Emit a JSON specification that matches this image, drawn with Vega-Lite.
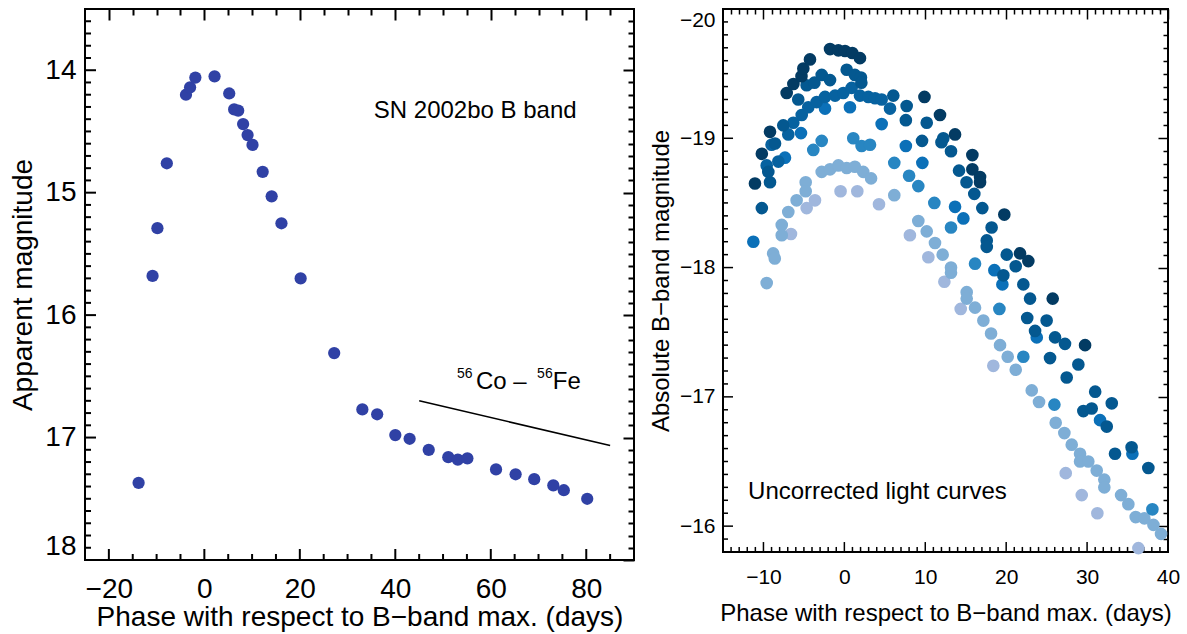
{
"$schema": "https://vega.github.io/schema/vega-lite/v6.json",
"padding": {"left": 8, "top": 7, "right": 0, "bottom": 0},
"config": {
  "font": "Liberation Sans",
  "view": {"stroke": "black", "strokeWidth": 2},
  "axis": {"grid": false, "domain": false, "tickColor": "#000000", "tickOpacity": 1, "labelColor": "black", "titleColor": "black", "labelFont": "Liberation Sans", "titleFont": "Liberation Sans", "titleFontWeight": "normal", "labelOverlap": false}
},
"datasets": {
  "left": [
    {"phase": -13.77, "mag": 17.37}, {"phase": -10.85, "mag": 15.68}, {"phase": -9.83, "mag": 15.29}, {"phase": -7.86, "mag": 14.76},
    {"phase": -3.85, "mag": 14.20}, {"phase": -2.99, "mag": 14.14}, {"phase": -1.88, "mag": 14.06}, {"phase": 2.14, "mag": 14.05},
    {"phase": 5.21, "mag": 14.19}, {"phase": 6.24, "mag": 14.32}, {"phase": 7.09, "mag": 14.33}, {"phase": 8.12, "mag": 14.44},
    {"phase": 9.06, "mag": 14.53}, {"phase": 10.09, "mag": 14.61}, {"phase": 12.22, "mag": 14.83}, {"phase": 14.10, "mag": 15.03},
    {"phase": 16.15, "mag": 15.25}, {"phase": 20.17, "mag": 15.70}, {"phase": 27.2, "mag": 16.31}, {"phase": 33.1, "mag": 16.77},
    {"phase": 36.2, "mag": 16.81}, {"phase": 40.0, "mag": 16.98}, {"phase": 43.0, "mag": 17.01}, {"phase": 47.0, "mag": 17.10},
    {"phase": 51.1, "mag": 17.16}, {"phase": 53.1, "mag": 17.18}, {"phase": 55.1, "mag": 17.17}, {"phase": 61.1, "mag": 17.26},
    {"phase": 65.2, "mag": 17.30}, {"phase": 69.1, "mag": 17.34}, {"phase": 73.1, "mag": 17.39}, {"phase": 75.3, "mag": 17.43},
    {"phase": 80.2, "mag": 17.50}
  ],
  "coline": [{"p1": 45, "m1": 16.70, "p2": 85, "m2": 17.065}],
  "lefttext": [
    {"phase": 35.5, "mag": 14.39, "label": "SN 2002bo B band"},
    {"phase": 56.9, "mag": 16.60, "label": "Co – "},
    {"phase": 73.0, "mag": 16.60, "label": "Fe"}
  ],
  "leftsup": [
    {"phase": 52.9, "mag": 16.51, "label": "56"},
    {"phase": 69.7, "mag": 16.51, "label": "56"}
  ],
  "lxmaj": [{"v": -20}, {"v": 0}, {"v": 20}, {"v": 40}, {"v": 60}, {"v": 80}],
  "lxmin": [{"v": -15}, {"v": -10}, {"v": -5}, {"v": 5}, {"v": 10}, {"v": 15}, {"v": 25}, {"v": 30}, {"v": 35}, {"v": 45}, {"v": 50}, {"v": 55}, {"v": 65}, {"v": 70}, {"v": 75}, {"v": 85}],
  "lymaj": [{"v": 14}, {"v": 15}, {"v": 16}, {"v": 17}],
  "lymin": [{"v": 13.6}, {"v": 13.7}, {"v": 13.8}, {"v": 13.9}, {"v": 14.1}, {"v": 14.2}, {"v": 14.3}, {"v": 14.4}, {"v": 14.5}, {"v": 14.6}, {"v": 14.7}, {"v": 14.8}, {"v": 14.9}, {"v": 15.1}, {"v": 15.2}, {"v": 15.3}, {"v": 15.4}, {"v": 15.5}, {"v": 15.6}, {"v": 15.7}, {"v": 15.8}, {"v": 15.9}, {"v": 16.1}, {"v": 16.2}, {"v": 16.3}, {"v": 16.4}, {"v": 16.5}, {"v": 16.6}, {"v": 16.7}, {"v": 16.8}, {"v": 16.9}, {"v": 17.1}, {"v": 17.2}, {"v": 17.3}, {"v": 17.4}, {"v": 17.5}, {"v": 17.6}, {"v": 17.7}, {"v": 17.8}, {"v": 17.9}],
  "rxmaj": [{"v": -10}, {"v": 0}, {"v": 10}, {"v": 20}, {"v": 30}],
  "rxmin": [{"v": -14}, {"v": -13}, {"v": -12}, {"v": -11}, {"v": -9}, {"v": -8}, {"v": -7}, {"v": -6}, {"v": -5}, {"v": -4}, {"v": -3}, {"v": -2}, {"v": -1}, {"v": 1}, {"v": 2}, {"v": 3}, {"v": 4}, {"v": 5}, {"v": 6}, {"v": 7}, {"v": 8}, {"v": 9}, {"v": 11}, {"v": 12}, {"v": 13}, {"v": 14}, {"v": 15}, {"v": 16}, {"v": 17}, {"v": 18}, {"v": 19}, {"v": 21}, {"v": 22}, {"v": 23}, {"v": 24}, {"v": 25}, {"v": 26}, {"v": 27}, {"v": 28}, {"v": 29}, {"v": 31}, {"v": 32}, {"v": 33}, {"v": 34}, {"v": 35}, {"v": 36}, {"v": 37}, {"v": 38}, {"v": 39}],
  "rymaj": [{"v": -19}, {"v": -18}, {"v": -17}, {"v": -16}],
  "rymin": [{"v": -19.9}, {"v": -19.8}, {"v": -19.7}, {"v": -19.6}, {"v": -19.5}, {"v": -19.4}, {"v": -19.3}, {"v": -19.2}, {"v": -19.1}, {"v": -18.9}, {"v": -18.8}, {"v": -18.7}, {"v": -18.6}, {"v": -18.5}, {"v": -18.4}, {"v": -18.3}, {"v": -18.2}, {"v": -18.1}, {"v": -17.9}, {"v": -17.8}, {"v": -17.7}, {"v": -17.6}, {"v": -17.5}, {"v": -17.4}, {"v": -17.3}, {"v": -17.2}, {"v": -17.1}, {"v": -16.9}, {"v": -16.8}, {"v": -16.7}, {"v": -16.6}, {"v": -16.5}, {"v": -16.4}, {"v": -16.3}, {"v": -16.2}, {"v": -16.1}, {"v": -15.9}],
  "righttext": [{"phase": -11.9, "mag": -16.21, "label": "Uncorrected light curves"}],
  "right": [
    {"curve": "c7", "phase": -6.6, "mag": -18.26}, {"curve": "c7", "phase": -4.66, "mag": -18.46}, {"curve": "c7", "phase": -3.63, "mag": -18.52},
    {"curve": "c7", "phase": -0.47, "mag": -18.59}, {"curve": "c7", "phase": 1.6, "mag": -18.59}, {"curve": "c7", "phase": 4.28, "mag": -18.49},
    {"curve": "c7", "phase": 8.1, "mag": -18.25}, {"curve": "c7", "phase": 10.38, "mag": -18.08}, {"curve": "c7", "phase": 12.36, "mag": -17.89},
    {"curve": "c7", "phase": 14.38, "mag": -17.68}, {"curve": "c7", "phase": 18.41, "mag": -17.24}, {"curve": "c7", "phase": 27.36, "mag": -16.41},
    {"curve": "c7", "phase": 29.34, "mag": -16.24}, {"curve": "c7", "phase": 31.27, "mag": -16.10}, {"curve": "c7", "phase": 36.34, "mag": -15.83},

    {"curve": "c6", "phase": -9.6, "mag": -17.88}, {"curve": "c6", "phase": -8.8, "mag": -18.11}, {"curve": "c6", "phase": -8.6, "mag": -18.07},
    {"curve": "c6", "phase": -7.74, "mag": -18.33}, {"curve": "c6", "phase": -7.74, "mag": -18.25}, {"curve": "c6", "phase": -6.93, "mag": -18.43},
    {"curve": "c6", "phase": -5.9, "mag": -18.52}, {"curve": "c6", "phase": -4.78, "mag": -18.66}, {"curve": "c6", "phase": -4.78, "mag": -18.59},
    {"curve": "c6", "phase": -2.8, "mag": -18.74}, {"curve": "c6", "phase": -1.77, "mag": -18.76}, {"curve": "c6", "phase": -0.74, "mag": -18.79},
    {"curve": "c6", "phase": 0.29, "mag": -18.77}, {"curve": "c6", "phase": 1.3, "mag": -18.78}, {"curve": "c6", "phase": 2.33, "mag": -18.74},
    {"curve": "c6", "phase": 3.3, "mag": -18.69}, {"curve": "c6", "phase": 6.17, "mag": -18.56}, {"curve": "c6", "phase": 9.14, "mag": -18.36},
    {"curve": "c6", "phase": 10.18, "mag": -18.28}, {"curve": "c6", "phase": 11.2, "mag": -18.19}, {"curve": "c6", "phase": 12.15, "mag": -18.10},
    {"curve": "c6", "phase": 13.18, "mag": -18.0}, {"curve": "c6", "phase": 13.18, "mag": -17.96}, {"curve": "c6", "phase": 15.12, "mag": -17.81},
    {"curve": "c6", "phase": 15.12, "mag": -17.76}, {"curve": "c6", "phase": 16.15, "mag": -17.69}, {"curve": "c6", "phase": 17.18, "mag": -17.59},
    {"curve": "c6", "phase": 18.13, "mag": -17.49}, {"curve": "c6", "phase": 19.24, "mag": -17.40}, {"curve": "c6", "phase": 20.19, "mag": -17.31},
    {"curve": "c6", "phase": 21.18, "mag": -17.21}, {"curve": "c6", "phase": 23.16, "mag": -17.05}, {"curve": "c6", "phase": 24.06, "mag": -16.96},
    {"curve": "c6", "phase": 26.12, "mag": -16.80}, {"curve": "c6", "phase": 27.19, "mag": -16.72}, {"curve": "c6", "phase": 28.1, "mag": -16.63},
    {"curve": "c6", "phase": 29.13, "mag": -16.56}, {"curve": "c6", "phase": 29.13, "mag": -16.50}, {"curve": "c6", "phase": 30.15, "mag": -16.50},
    {"curve": "c6", "phase": 31.19, "mag": -16.43}, {"curve": "c6", "phase": 32.13, "mag": -16.36}, {"curve": "c6", "phase": 32.13, "mag": -16.30},
    {"curve": "c6", "phase": 34.2, "mag": -16.24}, {"curve": "c6", "phase": 35.1, "mag": -16.17}, {"curve": "c6", "phase": 36.01, "mag": -16.07},
    {"curve": "c6", "phase": 37.08, "mag": -16.06}, {"curve": "c6", "phase": 38.2, "mag": -16.01}, {"curve": "c6", "phase": 39.14, "mag": -15.94},

    {"curve": "c5", "phase": -3.84, "mag": -18.91}, {"curve": "c5", "phase": -2.8, "mag": -18.98}, {"curve": "c5", "phase": 1.1, "mag": -19.0},
    {"curve": "c5", "phase": 2.13, "mag": -18.94}, {"curve": "c5", "phase": 3.17, "mag": -18.95}, {"curve": "c5", "phase": 6.17, "mag": -18.81},
    {"curve": "c5", "phase": 8.0, "mag": -18.71}, {"curve": "c5", "phase": 9.14, "mag": -18.63}, {"curve": "c5", "phase": 11.12, "mag": -18.5},
    {"curve": "c5", "phase": 13.18, "mag": -18.31}, {"curve": "c5", "phase": 16.15, "mag": -18.03}, {"curve": "c5", "phase": 19.16, "mag": -17.68},
    {"curve": "c5", "phase": 22.12, "mag": -17.31}, {"curve": "c5", "phase": 25.96, "mag": -16.94}, {"curve": "c5", "phase": 38.07, "mag": -16.13},

    {"curve": "c4", "phase": -11.25, "mag": -18.20}, {"curve": "c4", "phase": -7.34, "mag": -18.85}, {"curve": "c4", "phase": -5.36, "mag": -19.04},
    {"curve": "c4", "phase": -2.39, "mag": -19.23}, {"curve": "c4", "phase": 0.69, "mag": -19.24}, {"curve": "c4", "phase": 4.61, "mag": -19.11},
    {"curve": "c4", "phase": 7.6, "mag": -18.94}, {"curve": "c4", "phase": 9.64, "mag": -18.81}, {"curve": "c4", "phase": 13.68, "mag": -18.47},
    {"curve": "c4", "phase": 14.71, "mag": -18.38}, {"curve": "c4", "phase": 18.54, "mag": -17.98}, {"curve": "c4", "phase": 19.53, "mag": -17.87},
    {"curve": "c4", "phase": 23.78, "mag": -17.46}, {"curve": "c4", "phase": 31.6, "mag": -16.82}, {"curve": "c4", "phase": 35.6, "mag": -16.56},

    {"curve": "c3", "phase": -9.6, "mag": -18.79}, {"curve": "c3", "phase": -9.0, "mag": -18.95}, {"curve": "c3", "phase": -8.16, "mag": -18.82},
    {"curve": "c3", "phase": -6.93, "mag": -19.03}, {"curve": "c3", "phase": -6.31, "mag": -19.12}, {"curve": "c3", "phase": -5.27, "mag": -19.18},
    {"curve": "c3", "phase": -4.46, "mag": -19.24}, {"curve": "c3", "phase": -3.42, "mag": -19.28}, {"curve": "c3", "phase": -2.39, "mag": -19.32},
    {"curve": "c3", "phase": -1.15, "mag": -19.33}, {"curve": "c3", "phase": -0.13, "mag": -19.35}, {"curve": "c3", "phase": 0.9, "mag": -19.39},
    {"curve": "c3", "phase": 1.93, "mag": -19.33}, {"curve": "c3", "phase": 2.96, "mag": -19.32}, {"curve": "c3", "phase": 3.79, "mag": -19.31},
    {"curve": "c3", "phase": 4.61, "mag": -19.30}, {"curve": "c3", "phase": 5.64, "mag": -19.23},

    {"curve": "c2", "phase": -10.2, "mag": -18.46}, {"curve": "c2", "phase": -9.4, "mag": -18.74}, {"curve": "c2", "phase": -9.19, "mag": -18.66},
    {"curve": "c2", "phase": -8.57, "mag": -18.96}, {"curve": "c2", "phase": -7.55, "mag": -19.10}, {"curve": "c2", "phase": -5.7, "mag": -19.30},
    {"curve": "c2", "phase": -4.66, "mag": -19.41}, {"curve": "c2", "phase": -3.7, "mag": -19.43}, {"curve": "c2", "phase": -2.8, "mag": -19.49},
    {"curve": "c2", "phase": -1.77, "mag": -19.45}, {"curve": "c2", "phase": 0.29, "mag": -19.53}, {"curve": "c2", "phase": 1.3, "mag": -19.49},
    {"curve": "c2", "phase": 2.05, "mag": -19.47}, {"curve": "c2", "phase": 2.1, "mag": -19.43}, {"curve": "c2", "phase": 6.05, "mag": -19.33},
    {"curve": "c2", "phase": 7.7, "mag": -19.25}, {"curve": "c2", "phase": 7.6, "mag": -19.14}, {"curve": "c2", "phase": 9.6, "mag": -18.98},
    {"curve": "c2", "phase": 10.18, "mag": -19.12}, {"curve": "c2", "phase": 12.23, "mag": -19.0}, {"curve": "c2", "phase": 12.0, "mag": -18.97},
    {"curve": "c2", "phase": 13.18, "mag": -18.9}, {"curve": "c2", "phase": 14.17, "mag": -18.75}, {"curve": "c2", "phase": 15.1, "mag": -18.66},
    {"curve": "c2", "phase": 16.06, "mag": -18.57}, {"curve": "c2", "phase": 17.05, "mag": -18.46}, {"curve": "c2", "phase": 18.2, "mag": -18.31},
    {"curve": "c2", "phase": 17.6, "mag": -18.21}, {"curve": "c2", "phase": 17.6, "mag": -18.16}, {"curve": "c2", "phase": 20.07, "mag": -18.10},
    {"curve": "c2", "phase": 21.18, "mag": -18.01}, {"curve": "c2", "phase": 19.65, "mag": -17.94}, {"curve": "c2", "phase": 22.12, "mag": -17.87},
    {"curve": "c2", "phase": 22.95, "mag": -17.76}, {"curve": "c2", "phase": 22.6, "mag": -17.61}, {"curve": "c2", "phase": 25.0, "mag": -17.59},
    {"curve": "c2", "phase": 23.57, "mag": -17.51}, {"curve": "c2", "phase": 26.04, "mag": -17.46}, {"curve": "c2", "phase": 27.27, "mag": -17.41},
    {"curve": "c2", "phase": 25.42, "mag": -17.30}, {"curve": "c2", "phase": 28.92, "mag": -17.25}, {"curve": "c2", "phase": 27.48, "mag": -17.15},
    {"curve": "c2", "phase": 31.0, "mag": -17.04}, {"curve": "c2", "phase": 33.05, "mag": -16.95}, {"curve": "c2", "phase": 29.54, "mag": -16.89},
    {"curve": "c2", "phase": 30.57, "mag": -16.91}, {"curve": "c2", "phase": 32.43, "mag": -16.77}, {"curve": "c2", "phase": 33.45, "mag": -16.56},
    {"curve": "c2", "phase": 35.5, "mag": -16.61}, {"curve": "c2", "phase": 37.57, "mag": -16.45},

    {"curve": "c1", "phase": -11.05, "mag": -18.65}, {"curve": "c1", "phase": -10.2, "mag": -18.88}, {"curve": "c1", "phase": -9.19, "mag": -19.05},
    {"curve": "c1", "phase": -7.13, "mag": -19.35}, {"curve": "c1", "phase": -6.3, "mag": -19.42}, {"curve": "c1", "phase": -5.3, "mag": -19.48},
    {"curve": "c1", "phase": -5.07, "mag": -19.54}, {"curve": "c1", "phase": -4.25, "mag": -19.61}, {"curve": "c1", "phase": -1.77, "mag": -19.69},
    {"curve": "c1", "phase": -0.74, "mag": -19.68}, {"curve": "c1", "phase": 0.08, "mag": -19.675}, {"curve": "c1", "phase": 0.98, "mag": -19.66},
    {"curve": "c1", "phase": 1.93, "mag": -19.62}, {"curve": "c1", "phase": 9.9, "mag": -19.32}, {"curve": "c1", "phase": 11.82, "mag": -19.18},
    {"curve": "c1", "phase": 13.68, "mag": -19.03}, {"curve": "c1", "phase": 15.82, "mag": -18.87}, {"curve": "c1", "phase": 15.82, "mag": -18.76},
    {"curve": "c1", "phase": 16.77, "mag": -18.70}, {"curve": "c1", "phase": 16.77, "mag": -18.66}, {"curve": "c1", "phase": 19.77, "mag": -18.41},
    {"curve": "c1", "phase": 21.71, "mag": -18.11}, {"curve": "c1", "phase": 22.74, "mag": -18.05}, {"curve": "c1", "phase": 25.75, "mag": -17.76},
    {"curve": "c1", "phase": 29.75, "mag": -17.40}
  ]
},
"spacing": 12,
"hconcat": [
  {
    "width": 549, "height": 551,
    "resolve": {"axis": {"x": "independent", "y": "independent"}},
    "layer": [
      {
        "data": {"name": "lefttext"},
        "mark": {"type": "text", "fontSize": 24, "align": "left", "baseline": "alphabetic", "color": "black", "font": "Liberation Sans"},
        "encoding": {
          "x": {"field": "phase", "type": "quantitative", "scale": {"domain": [-25, 90], "nice": false, "zero": false},
                "axis": {"orient": "top", "offset": -11, "values": [-20, 0, 20, 40, 60, 80], "tickSize": 11, "tickWidth": 2, "labels": false, "title": null}},
          "y": {"field": "mag", "type": "quantitative", "scale": {"domain": [13.5, 18], "reverse": true, "nice": false, "zero": false},
                "axis": {"orient": "right", "offset": -11, "values": [14, 15, 16, 17, 18], "tickSize": 11, "tickWidth": 2, "labels": false, "title": null}},
          "text": {"field": "label"}
        }
      },
      {
        "data": {"name": "leftsup"},
        "mark": {"type": "text", "fontSize": 14, "align": "left", "baseline": "alphabetic", "color": "black", "font": "Liberation Sans"},
        "encoding": {
          "x": {"field": "phase", "type": "quantitative", "scale": {"domain": [-25, 90], "nice": false, "zero": false},
                "axis": {"orient": "top", "offset": -6, "values": [-15, -10, -5, 5, 10, 15, 25, 30, 35, 45, 50, 55, 65, 70, 75, 85], "tickSize": 6, "tickWidth": 2, "labels": false, "title": null}},
          "y": {"field": "mag", "type": "quantitative", "scale": {"domain": [13.5, 18], "reverse": true, "nice": false, "zero": false},
                "axis": {"orient": "right", "offset": -6, "values": [13.6, 13.7, 13.8, 13.9, 14.1, 14.2, 14.3, 14.4, 14.5, 14.6, 14.7, 14.8, 14.9, 15.1, 15.2, 15.3, 15.4, 15.5, 15.6, 15.7, 15.8, 15.9, 16.1, 16.2, 16.3, 16.4, 16.5, 16.6, 16.7, 16.8, 16.9, 17.1, 17.2, 17.3, 17.4, 17.5, 17.6, 17.7, 17.8, 17.9], "tickSize": 6, "tickWidth": 2, "labels": false, "title": null}},
          "text": {"field": "label"}
        }
      },
      {
        "data": {"name": "coline"},
        "mark": {"type": "rule", "color": "black", "strokeWidth": 1.5},
        "encoding": {
          "x": {"field": "p1", "type": "quantitative", "scale": {"domain": [-25, 90], "nice": false, "zero": false}, "axis": null},
          "x2": {"field": "p2"},
          "y": {"field": "m1", "type": "quantitative", "scale": {"domain": [13.5, 18], "reverse": true, "nice": false, "zero": false}, "axis": null},
          "y2": {"field": "m2"}
        }
      },
      {
        "data": {"name": "lxmaj"},
        "mark": {"type": "rule", "color": "black", "strokeWidth": 2},
        "encoding": {
          "x": {"field": "v", "type": "quantitative", "scale": {"domain": [-25, 90], "nice": false, "zero": false}, "axis": null},
          "y": {"datum": 18, "type": "quantitative", "scale": {"domain": [13.5, 18], "reverse": true, "nice": false, "zero": false}, "axis": null},
          "y2": {"datum": 17.91}
        }
      },
      {
        "data": {"name": "lxmin"},
        "mark": {"type": "rule", "color": "black", "strokeWidth": 2},
        "encoding": {
          "x": {"field": "v", "type": "quantitative", "scale": {"domain": [-25, 90], "nice": false, "zero": false}, "axis": null},
          "y": {"datum": 18, "type": "quantitative", "scale": {"domain": [13.5, 18], "reverse": true, "nice": false, "zero": false}, "axis": null},
          "y2": {"datum": 17.951}
        }
      },
      {
        "data": {"name": "lymaj"},
        "mark": {"type": "rule", "color": "black", "strokeWidth": 2},
        "encoding": {
          "y": {"field": "v", "type": "quantitative", "scale": {"domain": [13.5, 18], "reverse": true, "nice": false, "zero": false}, "axis": null},
          "x": {"datum": -25, "type": "quantitative", "scale": {"domain": [-25, 90], "nice": false, "zero": false}, "axis": null},
          "x2": {"datum": -22.7}
        }
      },
      {
        "data": {"name": "lymin"},
        "mark": {"type": "rule", "color": "black", "strokeWidth": 2},
        "encoding": {
          "y": {"field": "v", "type": "quantitative", "scale": {"domain": [13.5, 18], "reverse": true, "nice": false, "zero": false}, "axis": null},
          "x": {"datum": -25, "type": "quantitative", "scale": {"domain": [-25, 90], "nice": false, "zero": false}, "axis": null},
          "x2": {"datum": -23.74}
        }
      },
      {
        "data": {"name": "left"},
        "mark": {"type": "point", "filled": true, "size": 150, "opacity": 1, "color": "#3041a5"},
        "encoding": {
          "x": {"field": "phase", "type": "quantitative", "scale": {"domain": [-25, 90], "nice": false, "zero": false},
                "axis": {"orient": "bottom", "ticks": false, "values": [-20, 0, 20, 40, 60, 80], "labelFontSize": 28, "labelPadding": 15, "labelFlush": false, "title": "Phase with respect to B−band max. (days)", "titleFontSize": 28, "titlePadding": 0}},
          "y": {"field": "mag", "type": "quantitative", "scale": {"domain": [13.5, 18], "reverse": true, "nice": false, "zero": false},
                "axis": {"orient": "left", "ticks": false, "values": [14, 15, 16, 17, 18], "labelFontSize": 28, "labelPadding": 9, "labelFlush": true, "title": "Apparent magnitude", "titleFontSize": 28, "titlePadding": 7}}
        }
      }
    ]
  },
  {
    "width": 445, "height": 543,
    "resolve": {"axis": {"x": "independent", "y": "independent"}},
    "layer": [
      {
        "data": {"name": "right"},
        "mark": {"type": "point", "filled": true, "size": 10, "opacity": 0},
        "encoding": {
          "x": {"field": "phase", "type": "quantitative", "scale": {"domain": [-15, 40], "nice": false, "zero": false},
                "axis": {"orient": "top", "offset": -10, "values": [-10, 0, 10, 20, 30, 40], "tickSize": 10, "tickWidth": 1.5, "labels": false, "title": null}},
          "y": {"field": "mag", "type": "quantitative", "scale": {"domain": [-20, -15.8], "reverse": true, "nice": false, "zero": false},
                "axis": {"orient": "right", "offset": -10, "values": [-20, -19, -18, -17, -16], "tickSize": 10, "tickWidth": 1.5, "labels": false, "title": null}}
        }
      },
      {
        "data": {"name": "right"},
        "mark": {"type": "point", "filled": true, "size": 10, "opacity": 0},
        "encoding": {
          "x": {"field": "phase", "type": "quantitative", "scale": {"domain": [-15, 40], "nice": false, "zero": false},
                "axis": {"orient": "top", "offset": -5, "values": [-14, -13, -12, -11, -9, -8, -7, -6, -5, -4, -3, -2, -1, 1, 2, 3, 4, 5, 6, 7, 8, 9, 11, 12, 13, 14, 15, 16, 17, 18, 19, 21, 22, 23, 24, 25, 26, 27, 28, 29, 31, 32, 33, 34, 35, 36, 37, 38, 39], "tickSize": 5, "tickWidth": 1.5, "labels": false, "title": null}},
          "y": {"field": "mag", "type": "quantitative", "scale": {"domain": [-20, -15.8], "reverse": true, "nice": false, "zero": false},
                "axis": {"orient": "right", "offset": -5, "values": [-19.9, -19.8, -19.7, -19.6, -19.5, -19.4, -19.3, -19.2, -19.1, -18.9, -18.8, -18.7, -18.6, -18.5, -18.4, -18.3, -18.2, -18.1, -17.9, -17.8, -17.7, -17.6, -17.5, -17.4, -17.3, -17.2, -17.1, -16.9, -16.8, -16.7, -16.6, -16.5, -16.4, -16.3, -16.2, -16.1, -15.9], "tickSize": 5, "tickWidth": 1.5, "labels": false, "title": null}}
        }
      },
      {
        "data": {"name": "rxmaj"},
        "mark": {"type": "rule", "color": "black", "strokeWidth": 1.5},
        "encoding": {
          "x": {"field": "v", "type": "quantitative", "scale": {"domain": [-15, 40], "nice": false, "zero": false}, "axis": null},
          "y": {"datum": -15.8, "type": "quantitative", "scale": {"domain": [-20, -15.8], "reverse": true, "nice": false, "zero": false}, "axis": null},
          "y2": {"datum": -15.877}
        }
      },
      {
        "data": {"name": "rxmin"},
        "mark": {"type": "rule", "color": "black", "strokeWidth": 1.5},
        "encoding": {
          "x": {"field": "v", "type": "quantitative", "scale": {"domain": [-15, 40], "nice": false, "zero": false}, "axis": null},
          "y": {"datum": -15.8, "type": "quantitative", "scale": {"domain": [-20, -15.8], "reverse": true, "nice": false, "zero": false}, "axis": null},
          "y2": {"datum": -15.839}
        }
      },
      {
        "data": {"name": "rymaj"},
        "mark": {"type": "rule", "color": "black", "strokeWidth": 1.5},
        "encoding": {
          "y": {"field": "v", "type": "quantitative", "scale": {"domain": [-20, -15.8], "reverse": true, "nice": false, "zero": false}, "axis": null},
          "x": {"datum": -15, "type": "quantitative", "scale": {"domain": [-15, 40], "nice": false, "zero": false}, "axis": null},
          "x2": {"datum": -13.76}
        }
      },
      {
        "data": {"name": "rymin"},
        "mark": {"type": "rule", "color": "black", "strokeWidth": 1.5},
        "encoding": {
          "y": {"field": "v", "type": "quantitative", "scale": {"domain": [-20, -15.8], "reverse": true, "nice": false, "zero": false}, "axis": null},
          "x": {"datum": -15, "type": "quantitative", "scale": {"domain": [-15, 40], "nice": false, "zero": false}, "axis": null},
          "x2": {"datum": -14.38}
        }
      },
      {
        "data": {"name": "righttext"},
        "mark": {"type": "text", "fontSize": 24, "align": "left", "baseline": "alphabetic", "color": "black", "font": "Liberation Sans"},
        "encoding": {
          "x": {"field": "phase", "type": "quantitative", "scale": {"domain": [-15, 40], "nice": false, "zero": false}, "axis": null},
          "y": {"field": "mag", "type": "quantitative", "scale": {"domain": [-20, -15.8], "reverse": true, "nice": false, "zero": false}, "axis": null},
          "text": {"field": "label"}
        }
      },
      {
        "data": {"name": "right"},
        "mark": {"type": "point", "filled": true, "size": 160, "opacity": 1},
        "encoding": {
          "x": {"field": "phase", "type": "quantitative", "scale": {"domain": [-15, 40], "nice": false, "zero": false},
                "axis": {"orient": "bottom", "ticks": false, "values": [-10, 0, 10, 20, 30, 40], "labelFontSize": 21, "labelPadding": 14, "labelFlush": false, "title": "Phase with respect to B−band max. (days)", "titleFontSize": 24, "titlePadding": 14}},
          "y": {"field": "mag", "type": "quantitative", "scale": {"domain": [-20, -15.8], "reverse": true, "nice": false, "zero": false},
                "axis": {"orient": "left", "ticks": false, "values": [-20, -19, -18, -17, -16], "labelFontSize": 21, "labelPadding": 8, "labelFlush": true, "title": "Absolute B−band magnitude", "titleFontSize": 24, "titlePadding": 6}},
          "color": {"field": "curve", "type": "nominal", "legend": null,
                    "scale": {"domain": ["c1", "c2", "c3", "c4", "c5", "c6", "c7"], "range": ["#033b63", "#045890", "#0762a0", "#0b70b8", "#2886c2", "#7eaed6", "#a0b7dd"]}}
        }
      }
    ]
  }
]
}
